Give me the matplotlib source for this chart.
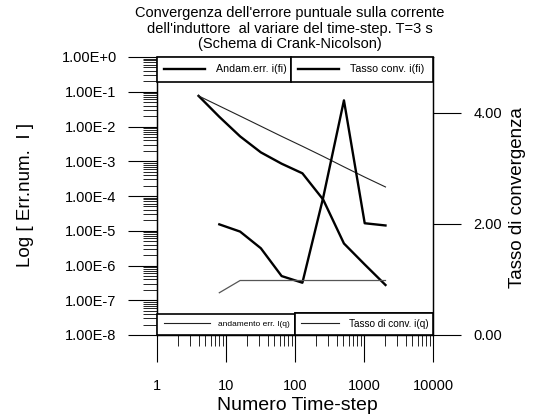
import numpy as np
import matplotlib
matplotlib.use('Agg')
import matplotlib.pyplot as plt
from matplotlib.ticker import LogLocator, FixedLocator, FuncFormatter, NullFormatter
from matplotlib.lines import Line2D

plt.rcParams['font.family'] = ['Liberation Sans', 'DejaVu Sans']

# numero di time-step
n_steps = [4, 8, 16, 32, 64, 128, 256, 512, 1024, 2048]
# errore puntuale (asse sinistro, log)
err_fi = [7.6e-2, 1.9e-2, 5.2e-3, 1.8e-3, 8.5e-4, 4.5e-4, 7.9e-5, 4.3e-6, 1.07e-6, 2.75e-7]
err_q = [7.6e-2, 3.9e-2, 2.0e-2, 1.02e-2, 5.2e-3, 2.7e-3, 1.38e-3, 6.9e-4, 3.5e-4, 1.82e-4]
# tasso di convergenza (asse destro), da n=8 in poi
rate_fi = [1.99, 1.86, 1.56, 1.06, 0.94, 2.47, 4.22, 2.01, 1.97]
rate_q = [0.76, 0.98, 0.98, 0.98, 0.98, 0.98, 0.98, 0.98, 0.98]

title_lines = ["Convergenza dell'errore puntuale sulla corrente",
               "dell'induttore  al variare del time-step. T=3 s",
               "(Schema di Crank-Nicolson)"]

W, H = 534, 420
fig = plt.figure(figsize=(W/100, H/100), dpi=100)
ax = fig.add_axes([157/W, 1-335/H, 276/W, 278/H])
ax2 = ax.twinx()

ax.plot(n_steps, err_fi, color='black', lw=1.7)
ax.plot(n_steps, err_q, color='#222222', lw=0.8)
ax2.plot(n_steps[1:], rate_fi, color='black', lw=1.7)
ax2.plot(n_steps[1:], rate_q, color='#555555', lw=0.9)

ax.set_xscale('log')
ax.set_yscale('log')
ax.set_xlim(1, 1e4)
ax.set_ylim(1e-8, 1)
ax2.set_ylim(0, 5)

ax.yaxis.set_major_locator(FixedLocator([10.0**k for k in range(-8, 1)]))
ax.yaxis.set_minor_locator(LogLocator(base=10, subs=np.arange(2, 10), numticks=30))
ax.yaxis.set_minor_formatter(NullFormatter())
ax.yaxis.set_major_formatter(FuncFormatter(lambda v, p: "1.00E%+d" % int(round(np.log10(v)))))
ax.xaxis.set_major_locator(FixedLocator([1, 10, 100, 1000, 10000]))
ax.xaxis.set_minor_locator(LogLocator(base=10, subs=np.arange(2, 10), numticks=30))
ax.xaxis.set_minor_formatter(NullFormatter())
ax.xaxis.set_major_formatter(FuncFormatter(lambda v, p: "%d" % v))
ax2.yaxis.set_major_locator(FixedLocator([0, 2, 4]))
ax2.yaxis.set_major_formatter(FuncFormatter(lambda v, p: "%.2f" % v))

ax.tick_params(axis='y', which='major', direction='out', length=21, width=0.8, pad=8, labelsize=10.5)
ax.tick_params(axis='y', which='minor', direction='out', length=10, width=0.6)
ax.tick_params(axis='x', which='major', direction='out', length=19.5, width=0.8, pad=12, labelsize=10.5)
ax.tick_params(axis='x', which='minor', direction='out', length=8, width=0.6)
ax2.tick_params(axis='y', direction='out', length=20, width=0.8, pad=9, labelsize=10.5)
for a in (ax, ax2):
    for s in a.spines.values():
        s.set_linewidth(0.9)

# legende a celle
def cell(axis, handle, label, x0, x1, y, fs, hl, loc, bp):
    leg = axis.legend([handle], [label], loc=loc, bbox_to_anchor=(x0, y, x1 - x0, 0),
                      mode='expand', borderaxespad=0, fontsize=fs, handlelength=hl,
                      handletextpad=1.0, borderpad=bp, fancybox=False, framealpha=1,
                      edgecolor='black')
    leg.get_frame().set_linewidth(1.2)
    axis.add_artist(leg)
    return leg

xa = lambda px: (px - 157) / 276
cell(ax2, Line2D([], [], color='k', lw=1.7), 'Andam.err. i(fi)', xa(157), xa(291), 1.0, 7.7, 3.8, 'upper left', 0.7)
cell(ax2, Line2D([], [], color='k', lw=1.7), 'Tasso conv. i(fi)', xa(291), xa(433), 1.0, 7.7, 3.8, 'upper left', 0.7)
cell(ax2, Line2D([], [], color='#222222', lw=0.8), 'andamento err. I(q)', xa(157), xa(295), 0.0, 6, 5.5, 'lower left', 0.8)
cell(ax2, Line2D([], [], color='#222222', lw=0.8), 'Tasso di conv. i(q)', xa(295), xa(433), 0.0, 7.2, 3.8, 'lower left', 0.62)

for i, t in enumerate(title_lines):
    fig.text(290/W, 1 - (13 + 15.5*i)/H, t, ha='center', va='center', fontsize=10.5)

fig.text(297/W, 1 - 405/H, 'Numero Time-step', ha='center', va='center', fontsize=14)
fig.text(25/W, 1 - 195/H, 'Log [ Err.num.  I ]', ha='center', va='center', rotation=90, fontsize=13.5)
fig.text(518/W, 1 - 198/H, 'Tasso di convergenza', ha='center', va='center', rotation=90, fontsize=13.5)

fig.savefig('out.png', dpi=100)
